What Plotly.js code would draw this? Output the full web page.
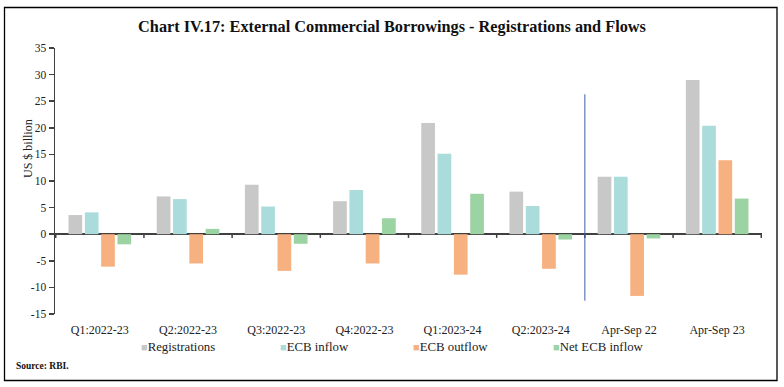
<!DOCTYPE html>
<html>
<head>
<meta charset="utf-8">
<script src="https://cdn.plot.ly/plotly-3.0.1.min.js"></script>
<style>
html,body{margin:0;padding:0;background:#fff;}
#chart{width:784px;height:387px;}
</style>
</head>
<body>
<div id="chart"></div>
<script>
const categories = ["Q1:2022-23","Q2:2022-23","Q3:2022-23","Q4:2022-23","Q1:2023-24","Q2:2023-24","Apr-Sep 22","Apr-Sep 23"];
const registrations = [3.6, 7.1, 9.3, 6.2, 20.9, 8.0, 10.8, 29.0];
const ecbInflow = [4.1, 6.6, 5.2, 8.3, 15.1, 5.3, 10.8, 20.4];
const ecbOutflow = [-6.1, -5.5, -6.9, -5.5, -7.6, -6.5, -11.6, 13.9];
const netEcbInflow = [-1.9, 1.0, -1.8, 3.0, 7.6, -1.0, -0.8, 6.7];
const seriesNames = ["Registrations", "ECB inflow", "ECB outflow", "Net ECB inflow"];
const seriesColors = ["#c8c8c8", "#a9dcdb", "#f7b07f", "#9bd3a2"];
const yTicks = [-15, -10, -5, 0, 5, 10, 15, 20, 25, 30, 35];

const serif = "Liberation Serif, DejaVu Serif, serif";
const seriesValues = [registrations, ecbInflow, ecbOutflow, netEcbInflow];
const data = seriesValues.map((vals, i) => ({
  type: "bar", name: seriesNames[i], x: categories, y: vals,
  marker: {color: seriesColors[i]}, hoverinfo: "skip", showlegend: false
}));

const W = 784, H = 387;
const M = {l: 55, r: 22, t: 48, b: 73};
const pw = W - M.l - M.r, ph = H - M.t - M.b;
const px = (x) => (x - M.l) / pw;           // pixel -> paper x
const py = (y) => (H - M.b - y) / ph;       // pixel -> paper y

const shapes = [];
for (let i = 0; i <= categories.length; i++) {
  shapes.push({type: "line", xref: "x", yref: "y", x0: i - 0.5, x1: i - 0.5, y0: 0, y1: -0.7, line: {color: "#404040", width: 1.5}});
}
shapes.push({type: "line", xref: "x", yref: "y", x0: 5.5, x1: 5.5, y0: 26.3, y1: -12.5, line: {color: "#3a5fb5", width: 1}});
shapes.push({type: "rect", xref: "paper", yref: "paper", x0: px(4.5), x1: px(777), y0: py(380.5), y1: py(7.5), line: {color: "#000", width: 1.3}, layer: "above"});

const legendX = [139, 278, 411, 551];
const annotations = [
  {text: "US $ billion", xref: "paper", yref: "paper", x: px(28), y: py(149), textangle: -90, showarrow: false, xanchor: "center", yanchor: "middle", font: {family: serif, size: 12, color: "#222"}},
  {text: "Source: RBI.", xref: "paper", yref: "paper", x: px(14), y: py(366), xanchor: "left", yanchor: "middle", showarrow: false, font: {family: serif, size: 9.5, color: "#111", weight: "bold"}}
];
seriesNames.forEach((n, i) => {
  annotations.push({
    text: "<span style='color:" + seriesColors[i] + ";font-size:11px'>■</span>" + n,
    xref: "paper", yref: "paper", x: px(legendX[i]), y: py(347), xanchor: "left", yanchor: "middle",
    showarrow: false, font: {family: serif, size: 12.8, color: "#222"}
  });
});

const layout = {
  width: W, height: H,
  margin: {l: M.l, r: M.r, t: M.t, b: M.b, autoexpand: false},
  paper_bgcolor: "#fff", plot_bgcolor: "#fff",
  showlegend: false,
  barmode: "group", bargap: 0.26, bargroupgap: 0.16,
  font: {family: serif, size: 11, color: "#222"},
  title: {text: "Chart IV.17: External Commercial Borrowings - Registrations and Flows", x: 0.5, xanchor: "center", y: 1 - 26 / H, yanchor: "middle", font: {family: serif, size: 16.3, color: "#111", weight: "bold"}},
  xaxis: {type: "category", showline: false, ticks: "", showgrid: false, zeroline: false, tickfont: {family: serif, size: 12, color: "#222"}, ticklabelstandoff: 7, fixedrange: true},
  yaxis: {range: [-15, 35], tickvals: yTicks, ticktext: yTicks.map(String), showline: true, linecolor: "#404040", linewidth: 1.5, ticks: "outside", ticklen: 5, tickcolor: "#404040", tickwidth: 1.5, showgrid: false, zeroline: true, zerolinecolor: "#404040", zerolinewidth: 2, tickfont: {family: serif, size: 11.5, color: "#222"}, fixedrange: true},
  shapes: shapes,
  annotations: annotations
};

Plotly.newPlot("chart", data, layout, {displayModeBar: false, staticPlot: true});
</script>
</body>
</html>
